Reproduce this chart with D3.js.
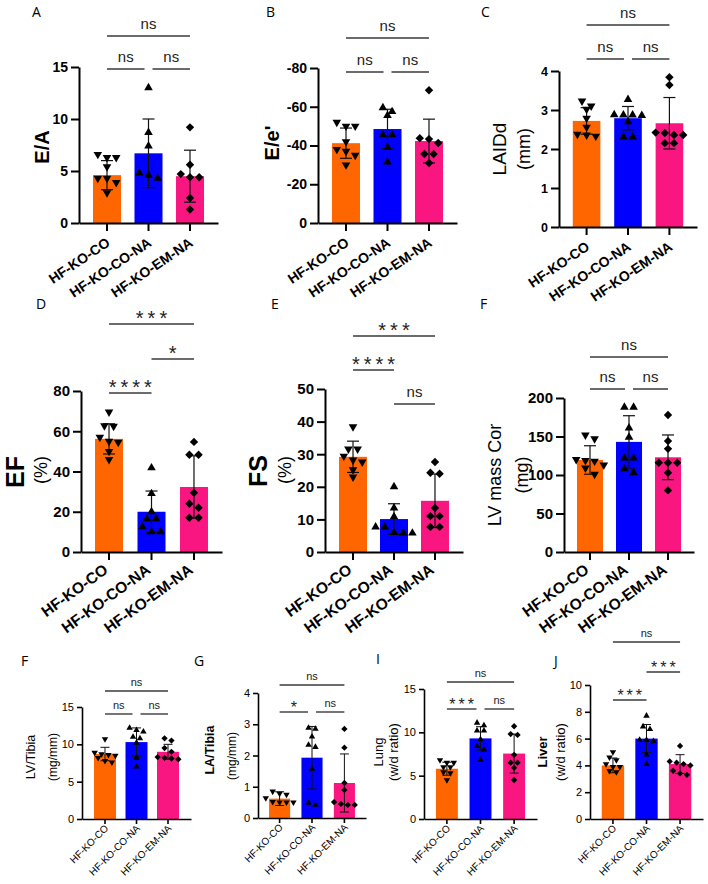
<!DOCTYPE html>
<html><head><meta charset="utf-8">
<script src="https://cdn.jsdelivr.net/npm/d3@7"></script>
<style>body{margin:0;background:#fff}svg{display:block}</style>
</head><body>
<svg id="c" width="708" height="884"></svg>
<script>
// ---------- DATA ----------
const groups = ["HF-KO-CO", "HF-KO-CO-NA", "HF-KO-EM-NA"];
const groupColors = ["#FF6600", "#0000FF", "#FA1680"];
const markerShapes = ["down", "up", "diamond"];
// comparison order: [0-1, 1-2, 0-2]
const sigPairs = [[0, 1], [1, 2], [0, 2]];

// A  E/A
const eaMean = [4.6, 6.7, 4.5];
const eaSD = [1.4, 3.3, 2.5];
const eaPts = [[6.6, 6.3, 6.3, 5.4, 4.3, 4.3, 3.9, 2.9], [13.0, 8.7, 7.4, 4.8, 4.6, 4.3], [9.2, 5.6, 4.7, 4.4, 4.4, 2.4, 1.3]];
const eaTicks = [0, 5, 10, 15];
const eaSig = ["ns", "ns", "ns"];

// B  E/e'
const eeMean = [-41.2, -48.5, -42.3];
const eeSD = [7.8, 10.2, 11.3];
const eePts = [[-52, -50, -50, -42, -38, -37, -35, -30], [-59.5, -57.5, -55.5, -45.5, -45.5, -39, -31.5], [-68.5, -43.8, -43.3, -41.3, -35.6, -35.6, -31]];
const eeTicks = [0, -20, -40, -60, -80];
const eeSig = ["ns", "ns", "ns"];

// C  LAIDd
const laMean = [2.72, 2.79, 2.66];
const laSD = [0.34, 0.3, 0.66];
const laPts = [[3.23, 3.1, 3.02, 2.79, 2.56, 2.38, 2.36, 2.33], [3.27, 2.88, 2.87, 2.87, 2.86, 2.7, 2.31, 2.31], [3.84, 3.64, 2.42, 2.41, 2.36, 2.36, 2.15, 2.15]];
const laTicks = [0, 1, 2, 3, 4];
const laSig = ["ns", "ns", "ns"];

// D  EF
const efMean = [56.2, 20, 32.3];
const efSD = [7.5, 10.3, 15.5];
const efPts = [[69.6, 62.7, 62.5, 57, 55, 54.5, 50, 46], [41.8, 29, 20, 16.5, 16.5, 12.5, 10, 10], [54.7, 48.3, 48.3, 29.4, 24, 22, 17, 17]];
const efTicks = [0, 20, 40, 60, 80];
const efSig = ["****", "*", "***"];

// E  FS
const fsMean = [29.2, 10.1, 15.7];
const fsSD = [4.8, 4.7, 8.2];
const fsPts = [[38.4, 31.6, 31.6, 29.4, 28.2, 27.6, 25.2, 23], [20, 13.5, 10.8, 7.7, 7.7, 6, 5.8, 5.8], [27.6, 24.3, 24, 13.5, 11, 11, 7.7, 7.7]];
const fsTicks = [0, 10, 20, 30, 40, 50];
const fsSig = ["****", "ns", "***"];

// F  LV mass Cor
const lvmMean = [119.5, 143, 123];
const lvmSD = [18.5, 34, 29];
const lvmPts = [[152, 147, 120, 119, 118, 113, 109, 101], [188, 188, 161, 149, 122, 122, 108, 103], [178, 144, 134, 116, 116, 116, 103, 80]];
const lvmTicks = [0, 50, 100, 150, 200];
const lvmSig = ["ns", "ns", "ns"];

// F  LV/Tibia
const lvtMean = [8.7, 10.3, 9.0];
const lvtSD = [0.9, 1.9, 1.0];
const lvtPts = [[10.7, 8.9, 8.7, 8.6, 8.5, 8.2, 7.8, 7.6], [12.2, 11.9, 11.7, 11, 10.8, 10.2, 8.2, 7], [10.8, 10.5, 9.5, 9.0, 8.3, 8.2, 8.1, 8.0]];
const lvtTicks = [0, 5, 10, 15];
const lvtSig = ["ns", "ns", "ns"];

// G  LA/Tibia
const latMean = [0.62, 1.93, 1.12];
const latSD = [0.22, 1.0, 0.93];
const latPts = [[0.85, 0.78, 0.75, 0.64, 0.52, 0.5, 0.5, 0.5], [2.88, 2.85, 2.6, 2.34, 2.27, 1.57, 0.48, 0.42], [2.85, 2.25, 1.12, 0.9, 0.51, 0.45, 0.42, 0.42]];
const latTicks = [0, 1, 2, 3, 4];
const latSig = ["*", "ns", "ns"];

// I  Lung
const lungMean = [5.8, 9.3, 7.55];
const lungSD = [0.75, 1.35, 2.25];
const lungPts = [[6.8, 6.5, 6.5, 6.0, 6.0, 5.4, 5.3, 4.5], [11.1, 10.8, 10.2, 10.2, 9.2, 8.4, 8.0, 6.8], [10.7, 9.8, 9.7, 7.4, 6.5, 6.5, 5.9, 4.5]];
const lungTicks = [0, 5, 10, 15];
const lungSig = ["***", "ns", "ns"];

// J  Liver
const livMean = [4.0, 6.0, 4.1];
const livSD = [0.55, 1.05, 0.7];
const livPts = [[5.0, 4.6, 4.4, 4.1, 3.9, 3.9, 3.6, 3.5], [7.7, 6.9, 6.7, 5.9, 5.9, 5.8, 4.8, 4.1], [5.45, 4.3, 4.2, 4.1, 4.0, 3.6, 3.4, 3.3]];
const livTicks = [0, 2, 4, 6, 8, 10];
const livSig = ["***", "***", "ns"];

// ---------- STYLES ----------
const FONT = "'Liberation Sans', Arial, sans-serif";
const rowTop = {tickFont: 14, tickWeight: "bold", tickLen: 8, tickPad: 3, axisW: 2, xlFont: 14, xlWeight: "bold", xlDx: 4, xlDy: 22, xlRot: -34,
  marker: 8, cap: 12, errW: 1.2, nsFont: 15, starFont: 20, starSp: 4, sigW: 1.6, nsOff: 7, starOff: -1};
const rowMid = Object.assign({}, rowTop, {tickFont: 15, xlFont: 15.5, xlDx: 0, xlDy: 20, xlRot: -36});
const rowBot = {tickFont: 11, tickWeight: "normal", tickLen: 5, tickPad: 3, axisW: 1.6, xlFont: 10, xlWeight: "normal", xlDx: 4, xlDy: 10, xlRot: -45,
  marker: 6, cap: 9, errW: 1, nsFont: 11, starFont: 16, starSp: 3, sigW: 1.4, nsOff: 5, starOff: -1};

const panels = [
  {letter: "A", lx: 32, ly: 17, mean: eaMean, sd: eaSD, pts: eaPts, ticks: eaTicks, domain: [0, 15], sig: eaSig, st: rowTop,
   axisX: 79, xEnd: 218, yZero: 223, yTop: 67, pi: 0.325, po: 0.3375, sigY: [69, 69, 36],
   ylab: [{t: "E/A", x: 42, y: 147, s: 20, w: "bold"}]},
  {letter: "B", lx: 266, ly: 17, mean: eeMean, sd: eeSD, pts: eePts, ticks: eeTicks, domain: [0, -80], sig: eeSig, st: rowTop,
   axisX: 318, xEnd: 457, yZero: 223, yTop: 68, pi: 0.325, po: 0.3375, sigY: [72, 72, 38],
   ylab: [{t: "E/e'", x: 272, y: 143, s: 20, w: "bold"}]},
  {letter: "C", lx: 481, ly: 17, mean: laMean, sd: laSD, pts: laPts, ticks: laTicks, domain: [0, 4], sig: laSig, st: Object.assign({}, rowTop, {tickFont: 12.5}),
   axisX: 559, xEnd: 697, yZero: 227, yTop: 71, pi: 0.334, po: 0.333, sigY: [59, 59, 25],
   ylab: [{t: "LAIDd", x: 499, y: 149, s: 19, w: "normal"}, {t: "(mm)", x: 524, y: 149, s: 18, w: "normal"}]},
  {letter: "D", lx: 36, ly: 309, mean: efMean, sd: efSD, pts: efPts, ticks: efTicks, domain: [0, 80], sig: efSig, st: rowMid,
   axisX: 81, xEnd: 222, yZero: 552, yTop: 391, pi: 0.341, po: 0.33, sigY: [393, 359, 324],
   ylab: [{t: "EF", x: 15, y: 472, s: 25, w: "bold"}, {t: "(%)", x: 41, y: 470, s: 18, w: "normal"}]},
  {letter: "E", lx: 271, ly: 309, mean: fsMean, sd: fsSD, pts: fsPts, ticks: fsTicks, domain: [0, 50], sig: fsSig, st: rowMid,
   axisX: 325, xEnd: 463, yZero: 552, yTop: 389, pi: 0.317, po: 0.342, sigY: [370, 404, 336],
   ylab: [{t: "FS", x: 258, y: 471, s: 25, w: "bold"}, {t: "(%)", x: 285, y: 470, s: 18, w: "normal"}]},
  {letter: "F", lx: 480, ly: 309, mean: lvmMean, sd: lvmSD, pts: lvmPts, ticks: lvmTicks, domain: [0, 200], sig: lvmSig, st: rowMid,
   axisX: 564, xEnd: 694, yZero: 552, yTop: 398, pi: 0.333, po: 0.333, sigY: [389, 389, 357],
   ylab: [{t: "LV mass Cor", x: 495, y: 475, s: 18, w: "normal"}, {t: "(mg)", x: 522, y: 475, s: 18, w: "normal"}]},
  {letter: "F", lx: 21, ly: 666, mean: lvtMean, sd: lvtSD, pts: lvtPts, ticks: lvtTicks, domain: [0, 15], sig: lvtSig, st: rowBot,
   axisX: 82, xEnd: 191, yZero: 819, yTop: 707, pi: 0.302, po: 0.381, sigY: [714, 714, 691],
   ylab: [{t: "LV/Tibia", x: 31, y: 757, s: 12.5, w: "normal"}, {t: "(mg/mm)", x: 53, y: 757, s: 12, w: "normal"}]},
  {letter: "G", lx: 194, ly: 666, mean: latMean, sd: latSD, pts: latPts, ticks: latTicks, domain: [0, 4], sig: latSig, st: rowBot,
   axisX: 258, xEnd: 366, yZero: 818, yTop: 693, pi: 0.349, po: 0.341, sigY: [712, 712, 685],
   ylab: [{t: "LA/Tibia", x: 210, y: 750, s: 12.5, w: "bold"}, {t: "(mg/mm)", x: 232, y: 756, s: 12, w: "normal"}]},
  {letter: "I", lx: 376, ly: 664, mean: lungMean, sd: lungSD, pts: lungPts, ticks: lungTicks, domain: [0, 15], sig: lungSig, st: rowBot,
   axisX: 424, xEnd: 537, yZero: 819, yTop: 689, pi: 0.348, po: 0.355, sigY: [709, 709, 682],
   ylab: [{t: "Lung", x: 378, y: 752, s: 13, w: "normal"}, {t: "(w/d ratio)", x: 393, y: 752, s: 13, w: "normal"}]},
  {letter: "J", lx: 554, ly: 666, mean: livMean, sd: livSD, pts: livPts, ticks: livTicks, domain: [0, 10], sig: livSig, st: rowBot,
   axisX: 590, xEnd: 703, yZero: 819, yTop: 685, pi: 0.333, po: 0.35, sigY: [700, 672, 642],
   ylab: [{t: "Liver", x: 542, y: 752, s: 13, w: "bold"}, {t: "(w/d ratio)", x: 560, y: 752, s: 13, w: "normal"}]}
];

// ---------- DRAW ----------
const svg = d3.select("#c").style("font-family", FONT);

function symbolPath(shape, size) {
  if (shape === "diamond") return d3.symbol(d3.symbolSquare, size * size * 0.55)();
  return d3.symbol(d3.symbolTriangle, size * size * 0.5)();
}

function swarm(vals, y, cx, d) {
  const pts = vals.map(v => ({v, py: y(v)})).sort((a, b) => a.py - b.py);
  const rows = [];
  pts.forEach(p => {
    const r = rows[rows.length - 1];
    if (r && Math.abs(p.py - r[0].py) < d * 0.8) r.push(p); else rows.push([p]);
  });
  rows.forEach(r => r.forEach((p, k) => { p.px = cx + (k - (r.length - 1) / 2) * d * 1.15; }));
  return pts;
}

panels.forEach(p => {
  const st = p.st;
  const g = svg.append("g");
  const y = d3.scaleLinear().domain(p.domain).range([p.yZero, p.yTop]);
  const x = d3.scaleBand().domain(groups).range([p.axisX, p.xEnd]).paddingInner(p.pi).paddingOuter(p.po);
  const cx = i => x(groups[i]) + x.bandwidth() / 2;

  // bars
  g.selectAll("rect.bar").data(p.mean).join("rect").attr("class", "bar")
    .attr("x", (d, i) => x(groups[i])).attr("width", x.bandwidth())
    .attr("y", d => Math.min(y(0), y(d))).attr("height", d => Math.abs(y(d) - y(0)))
    .attr("fill", (d, i) => groupColors[i]);

  // error bars
  p.mean.forEach((m, i) => {
    const hi = y(m + (m < 0 ? -p.sd[i] : p.sd[i])), lo = y(m - (m < 0 ? -p.sd[i] : p.sd[i]));
    const c = cx(i);
    const eg = g.append("g").attr("stroke", "#111").attr("stroke-width", st.errW);
    eg.append("line").attr("x1", c).attr("x2", c).attr("y1", hi).attr("y2", lo);
    [hi, lo].forEach(yy => eg.append("line").attr("x1", c - st.cap / 2).attr("x2", c + st.cap / 2).attr("y1", yy).attr("y2", yy));
  });

  // points
  p.pts.forEach((vals, i) => {
    const placed = swarm(vals, y, cx(i), st.marker);
    const shape = markerShapes[i];
    g.selectAll(null).data(placed).join("path")
      .attr("d", symbolPath(shape, st.marker))
      .attr("transform", d => `translate(${d.px},${d.py}) rotate(${shape === "down" ? 180 : shape === "diamond" ? 45 : 0})`)
      .attr("fill", "#000");
  });

  // y axis
  const ya = d3.axisLeft(y).tickValues(p.ticks).tickSize(st.tickLen).tickSizeOuter(0).tickPadding(st.tickPad).tickFormat(d => String(d));
  const yg = g.append("g").attr("transform", `translate(${p.axisX},0)`).call(ya);
  yg.selectAll("path,line").attr("stroke", "#000").attr("stroke-width", st.axisW);
  yg.selectAll("text").attr("fill", "#000").style("font-size", st.tickFont + "px").style("font-weight", st.tickWeight).style("font-family", FONT);

  // x axis
  const xa = d3.axisBottom(x).tickSize(st.tickLen).tickSizeOuter(0);
  const xg = g.append("g").attr("transform", `translate(0,${p.yZero})`).call(xa);
  xg.selectAll("path,line").attr("stroke", "#000").attr("stroke-width", st.axisW);
  xg.selectAll("text").attr("x", 0).attr("y", 0).attr("dy", 0)
    .attr("text-anchor", "end").attr("fill", "#000")
    .attr("transform", `translate(${st.xlDx},${st.xlDy}) rotate(${st.xlRot})`)
    .style("font-size", st.xlFont + "px").style("font-weight", st.xlWeight).style("font-family", FONT);

  // significance
  sigPairs.forEach(([a, b], k) => {
    const yy = p.sigY[k];
    let x1 = cx(a), x2 = cx(b);
    if (k === 0 && p.sigY[0] === p.sigY[1]) x2 -= 4;
    if (k === 1 && p.sigY[0] === p.sigY[1]) x1 += 4;
    g.append("line").attr("x1", x1).attr("x2", x2).attr("y1", yy).attr("y2", yy)
      .attr("stroke", "#3a3a3a").attr("stroke-width", st.sigW);
    const lab = p.sig[k];
    const isStar = lab.indexOf("*") >= 0;
    g.append("text").attr("x", (x1 + x2) / 2 + (isStar ? st.starSp / 2 : 0))
      .attr("y", yy - (isStar ? st.starOff : st.nsOff))
      .attr("text-anchor", "middle").attr("fill", "#222")
      .style("font-size", (isStar ? st.starFont : st.nsFont) + "px")
      .style("letter-spacing", isStar ? st.starSp + "px" : "0px")
      .text(lab);
  });

  // y label
  p.ylab.forEach(l => {
    g.append("text").attr("transform", `translate(${l.x},${l.y}) rotate(-90)`)
      .attr("text-anchor", "middle").attr("dominant-baseline", "central")
      .style("font-size", l.s + "px").style("font-weight", l.w).attr("fill", "#000").text(l.t);
  });

  // panel letter
  g.append("text").attr("x", p.lx).attr("y", p.ly).style("font-family", "'Open Sans', 'Noto Sans', sans-serif")
    .style("font-size", "14px").attr("fill", "#000").text(p.letter);
});
</script>
</body></html>
